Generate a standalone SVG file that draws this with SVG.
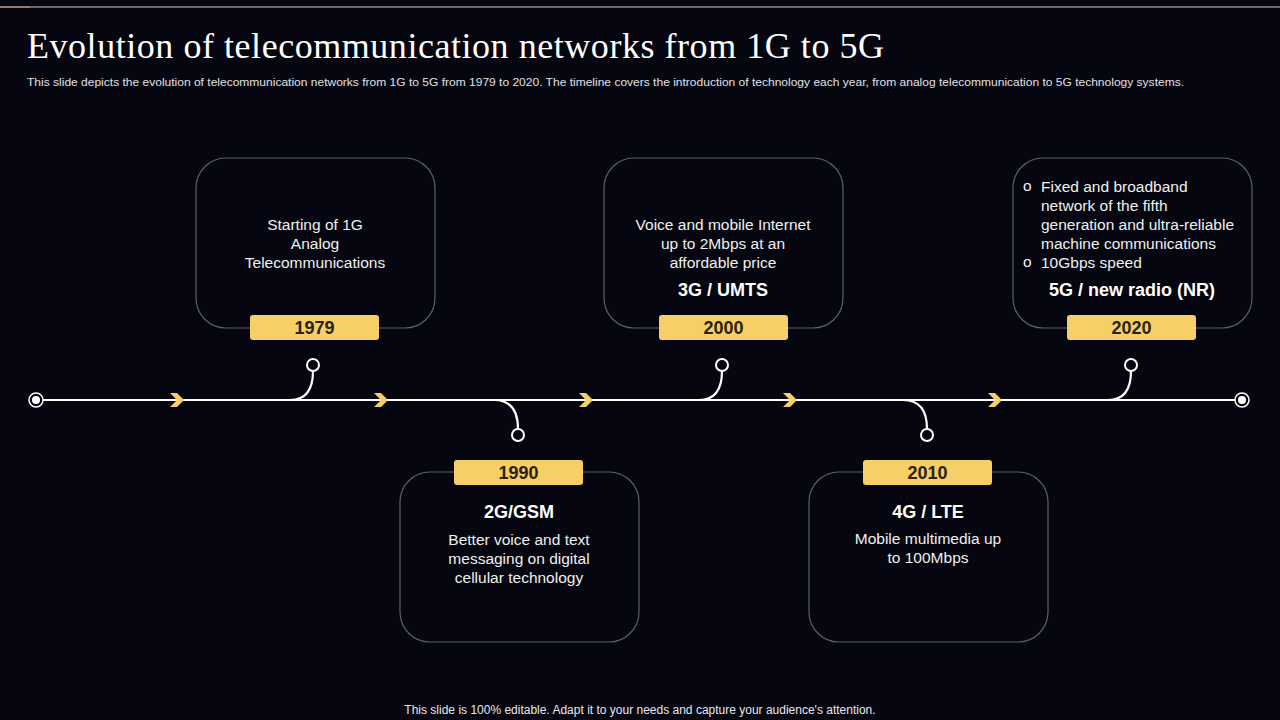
<svg xmlns="http://www.w3.org/2000/svg" width="1280" height="720" viewBox="0 0 1280 720">
<defs>
<style>
.box{fill:#05060f;stroke:#5c5e6a;stroke-width:1.2}
.yr{fill:#f6cf66}
.yt{font-family:"Liberation Sans",Arial,sans-serif;font-weight:bold;font-size:18px;fill:#2a2212;text-anchor:middle}
.bd{font-family:"Liberation Sans",Arial,sans-serif;font-size:15.5px;fill:#f0f0f0;text-anchor:middle}
.bl{font-family:"Liberation Sans",Arial,sans-serif;font-size:15.5px;fill:#f0f0f0}
.hd{font-family:"Liberation Sans",Arial,sans-serif;font-weight:bold;font-size:18px;fill:#ffffff;text-anchor:middle}
.ln{fill:none;stroke:#ffffff;stroke-width:2.2}
.pin{fill:#05060f;stroke:#ffffff;stroke-width:2}
.chev{fill:#f6cf66}
</style>
</defs>
<rect x="0" y="0" width="1280" height="720" fill="#05060f"/>
<line x1="0" y1="7" x2="1280" y2="7" stroke="#cfcfd6" stroke-width="1"/>
<line x1="0" y1="7" x2="30" y2="7" stroke="#b89a4a" stroke-width="1"/>
<text x="27" y="58" font-family="'Liberation Serif','Times New Roman',serif" font-size="36" fill="#ffffff" textLength="857" lengthAdjust="spacing">Evolution of telecommunication networks from 1G to 5G</text>
<text x="27" y="86" font-family="'Liberation Sans',Arial,sans-serif" font-size="11" fill="#e0e0e6" textLength="1157" lengthAdjust="spacingAndGlyphs">This slide depicts the evolution of telecommunication networks from 1G to 5G from 1979 to 2020. The timeline covers the introduction of technology each year,  from analog telecommunication to 5G technology systems.</text>

<g id="connectors">
<line class="ln" x1="43" y1="400" x2="1235" y2="400"/>
<circle cx="36" cy="400" r="7" fill="none" stroke="#ffffff" stroke-width="1.5"/>
<circle cx="36" cy="400" r="4" fill="#ffffff"/>
<circle cx="1242" cy="400" r="7" fill="none" stroke="#ffffff" stroke-width="1.5"/>
<circle cx="1242" cy="400" r="4" fill="#ffffff"/>
<path class="ln" d="M290,400 Q313,400 313,371"/>
<circle class="pin" cx="313" cy="365" r="6"/>
<path class="ln" d="M494,400 Q518,400 518,429"/>
<circle class="pin" cx="518" cy="435" r="6"/>
<path class="ln" d="M699,400 Q722,400 722,371"/>
<circle class="pin" cx="722" cy="365" r="6"/>
<path class="ln" d="M903,400 Q927,400 927,429"/>
<circle class="pin" cx="927" cy="435" r="6"/>
<path class="ln" d="M1108,400 Q1131,400 1131,371"/>
<circle class="pin" cx="1131" cy="365" r="6"/>
<polygon class="chev" points="170,393 177,393 184,400 177,407 170,407 177,400"/>
<polygon class="chev" points="374,393 381,393 388,400 381,407 374,407 381,400"/>
<polygon class="chev" points="579,393 586,393 593,400 586,407 579,407 586,400"/>
<polygon class="chev" points="783,393 790,393 797,400 790,407 783,407 790,400"/>
<polygon class="chev" points="988,393 995,393 1002,400 995,407 988,407 995,400"/>
</g>

<g id="node-1979">
<rect class="box" x="196" y="158" width="239" height="170" rx="30"/>
<rect class="yr" x="250" y="315" width="129" height="25" rx="3"/>
<text class="yt" x="314.5" y="334">1979</text>
<text class="bd" x="315" y="230">Starting of 1G</text>
<text class="bd" x="315" y="249">Analog</text>
<text class="bd" x="315" y="268">Telecommunications</text>
</g>

<g id="node-1990">
<rect class="box" x="400" y="472" width="239" height="170" rx="30"/>
<rect class="yr" x="454" y="460" width="129" height="25" rx="3"/>
<text class="yt" x="518.5" y="479">1990</text>
<text class="hd" x="519" y="518">2G/GSM</text>
<text class="bd" x="519" y="545">Better voice and text</text>
<text class="bd" x="519" y="564">messaging on digital</text>
<text class="bd" x="519" y="583">cellular technology</text>
</g>

<g id="node-2000">
<rect class="box" x="604" y="158" width="239" height="170" rx="30"/>
<rect class="yr" x="659" y="315" width="129" height="25" rx="3"/>
<text class="yt" x="723.5" y="334">2000</text>
<text class="bd" x="723" y="230">Voice and mobile Internet</text>
<text class="bd" x="723" y="249">up to 2Mbps at an</text>
<text class="bd" x="723" y="268">affordable price</text>
<text class="hd" x="723" y="296">3G / UMTS</text>
</g>

<g id="node-2010">
<rect class="box" x="809" y="472" width="239" height="170" rx="30"/>
<rect class="yr" x="863" y="460" width="129" height="25" rx="3"/>
<text class="yt" x="927.5" y="479">2010</text>
<text class="hd" x="928" y="518">4G / LTE</text>
<text class="bd" x="928" y="544">Mobile multimedia up</text>
<text class="bd" x="928" y="563">to 100Mbps</text>
</g>

<g id="node-2020">
<rect class="box" x="1013" y="158" width="239" height="170" rx="30"/>
<rect class="yr" x="1067" y="315" width="129" height="25" rx="3"/>
<text class="yt" x="1131.5" y="334">2020</text>
<text class="bl" x="1023" y="191" font-size="12">o</text>
<text class="bl" x="1041" y="192">Fixed and broadband</text>
<text class="bl" x="1041" y="211">network of the fifth</text>
<text class="bl" x="1041" y="230">generation and ultra-reliable</text>
<text class="bl" x="1041" y="249">machine communications</text>
<text class="bl" x="1023" y="267" font-size="12">o</text>
<text class="bl" x="1041" y="268">10Gbps speed</text>
<text class="hd" x="1132" y="296">5G / new radio (NR)</text>
</g>

<text x="640" y="714" font-family="'Liberation Sans',Arial,sans-serif" font-size="12" fill="#e8e8ee" text-anchor="middle">This slide is 100% editable. Adapt it to your needs and capture your audience's attention.</text>
</svg>
